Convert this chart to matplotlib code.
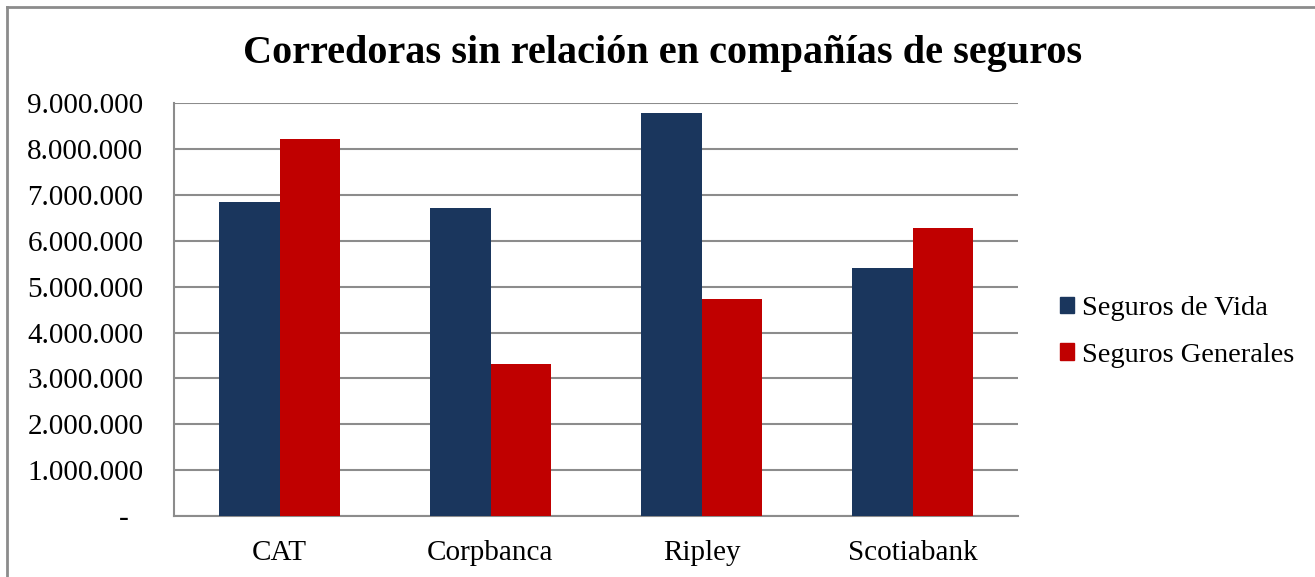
import numpy as np
import matplotlib
matplotlib.use("Agg")
import matplotlib.pyplot as plt
from matplotlib.patches import Patch
from matplotlib.lines import Line2D

# data
categories = ["CAT", "Corpbanca", "Ripley", "Scotiabank"]
seguros_vida = [6850000, 6710000, 8780000, 5400000]
seguros_generales = [8220000, 3310000, 4730000, 6270000]
series_names = ["Seguros de Vida", "Seguros Generales"]
colors = ["#1a365d", "#c00000"]

plt.rcParams['font.family'] = ['Liberation Serif', 'DejaVu Serif']

fig = plt.figure(figsize=(13.15, 5.77), dpi=100)
W, H = 1315, 577

# outer chart border (left and top visible)
fig.add_artist(Line2D([7/W, 7/W], [0, 1-7/H], color="#8c8c8c", lw=2, transform=fig.transFigure))
fig.add_artist(Line2D([7/W, 1], [1-7/H, 1-7/H], color="#8c8c8c", lw=2, transform=fig.transFigure))

ax = fig.add_axes([174/W, 1-516/H, (1018-174)/W, (516-103.3)/H])

x = np.arange(len(categories))
bw = 1/3.5
ax.bar(x - bw/2, seguros_vida, bw, color=colors[0], label=series_names[0], zorder=3)
ax.bar(x + bw/2, seguros_generales, bw, color=colors[1], label=series_names[1], zorder=3)

ax.set_xlim(-0.5, len(categories)-0.5)
ax.set_ylim(0, 9000000)
ax.set_yticks(np.arange(0, 9000001, 1000000))

def fmt(v, pos):
    if v == 0:
        return "-  "
    return f"{int(v):,}".replace(",", ".")
ax.yaxis.set_major_formatter(plt.FuncFormatter(fmt))

ax.set_xticks(x)
ax.set_xticklabels(categories)
ax.tick_params(axis="both", length=0, labelsize=21, colors="black")
ax.tick_params(axis="y", pad=22)
ax.tick_params(axis="x", pad=17)

ax.grid(axis="y", color="#8c8c8c", lw=1.5, zorder=0)
for s in ["top", "right"]:
    ax.spines[s].set_visible(False)
for s in ["left", "bottom"]:
    ax.spines[s].set_color("#8c8c8c")
    ax.spines[s].set_linewidth(1.5)

fig.text(663/W, 1-53/H, "Corredoras sin relación en compañías de seguros",
         ha="center", va="center", fontsize=29, fontweight="bold")

handles = [Patch(color=c, label=n) for c, n in zip(colors, series_names)]
fig.legend(handles=handles, loc="center left", bbox_to_anchor=(1046/W, 1-332/H),
           frameon=False, fontsize=20.5, handlelength=0.5, handleheight=0.5,
           handletextpad=0.25, labelspacing=0.75, borderpad=0)

fig.savefig("out.png", dpi=100)
